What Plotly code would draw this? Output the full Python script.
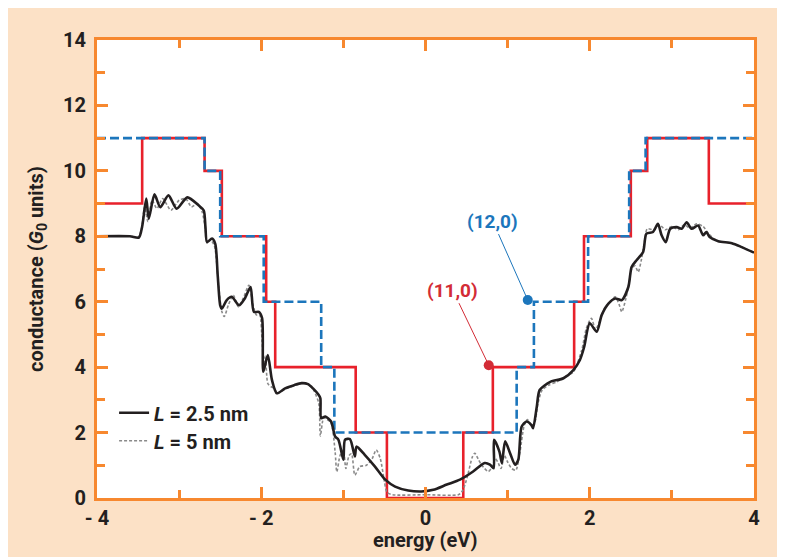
import plotly.graph_objects as go

# ---------------- data ----------------
red_edges = [-4, -3.45, -2.69, -2.48, -1.94, -1.83, -0.85, -0.47, 0.46, 0.82, 1.81, 1.93, 2.50, 2.70, 3.45, 4]
red_vals = [9, 11, 10, 8, 6, 4, 2, 0, 2, 4, 6, 8, 10, 11, 9]

blue_edges = [-4, -2.69, -2.50, -1.97, -1.27, -1.11, 1.11, 1.32, 1.98, 2.48, 2.68, 4]
blue_vals = [11, 10, 8, 6, 4, 2, 4, 6, 8, 10, 11]

black_x = [-4, -3.6, -3.49, -3.45, -3.40, -3.37, -3.30, -3.23, -3.13, -3.03, -2.90, -2.76, -2.70, -2.68,
           -2.66, -2.60, -2.56, -2.53, -2.50, -2.48, -2.42, -2.36, -2.27, -2.20, -2.13, -2.09, -2.03,
           -1.99, -1.975, -1.92, -1.87, -1.81, -1.71, -1.60, -1.51, -1.43, -1.37, -1.30, -1.28, -1.27,
           -1.22, -1.15, -1.10, -1.06, -1.00, -0.98, -0.92, -0.86, -0.84, -0.74, -0.615, -0.49, -0.37,
           -0.21, -0.05, 0.095, 0.26, 0.42, 0.58, 0.72, 0.785, 0.83, 0.834, 0.90, 0.93, 0.97, 1.03,
           1.09, 1.13, 1.17, 1.23, 1.29, 1.31, 1.355, 1.39, 1.52, 1.68, 1.80, 1.88, 1.93, 2.00, 2.085,
           2.145, 2.23, 2.31, 2.39, 2.47, 2.51, 2.57, 2.65, 2.69, 2.77, 2.83, 2.875, 2.925, 2.98, 3.06,
           3.12, 3.18, 3.24, 3.32, 3.38, 3.42, 3.46, 3.565, 3.73, 3.85, 4.0]
black_y = [8.0, 8.0, 7.96, 8.3, 9.15, 8.54, 9.28, 8.89, 9.25, 8.84, 9.19, 8.94, 8.79, 8.3,
           7.82, 7.93, 7.77, 6.8, 5.89, 5.79, 6.05, 6.15, 5.89, 6.1, 6.45, 5.69, 5.69,
           5.5, 3.86, 4.37, 3.61, 3.20, 3.35, 3.45, 3.51, 3.48, 3.35, 3.15, 3.05, 2.44,
           2.49, 2.34, 1.88, 1.78, 1.17, 1.78, 1.80, 1.27, 1.57, 1.32, 0.96, 0.56, 0.35,
           0.23, 0.20, 0.25, 0.41, 0.56, 0.81, 1.07, 1.02, 0.91, 1.78, 1.42, 1.07, 1.73, 1.37,
           1.02, 1.17, 2.18, 2.34, 2.23, 2.13, 2.79, 3.30, 3.55, 3.66, 3.91, 4.22, 4.6, 5.34, 5.08,
           5.59, 5.95, 6.10, 6.05, 6.45, 7.06, 7.27, 7.52, 8.08, 8.13, 8.38, 8.03, 7.82, 8.23, 8.28,
           8.23, 8.43, 8.23, 8.33, 8.03, 8.13, 7.98, 7.85, 7.79, 7.67, 7.5]

grey_x = [-4, -3.6, -3.5, -3.46, -3.42, -3.38, -3.33, -3.27, -3.20, -3.10, -3.00, -2.92, -2.85, -2.78,
          -2.72, -2.68, -2.66, -2.62, -2.57, -2.52, -2.48, -2.45, -2.40, -2.34, -2.28, -2.22, -2.15,
          -2.10, -2.06, -2.02, -1.99, -1.97, -1.95, -1.92, -1.88, -1.84, -1.80, -1.71, -1.60, -1.51,
          -1.43, -1.37, -1.30, -1.28, -1.24, -1.20, -1.15, -1.10, -1.08, -1.04, -1.00, -0.97, -0.93,
          -0.90, -0.86, -0.80, -0.72, -0.65, -0.60, -0.55, -0.50, -0.47, -0.40, 0.0, 0.40, 0.44, 0.48,
          0.52, 0.57, 0.60, 0.64, 0.68, 0.72, 0.765, 0.80, 0.85, 0.88, 0.92, 0.96, 1.00, 1.05, 1.10,
          1.15, 1.20, 1.24, 1.29, 1.33, 1.37, 1.42, 1.50, 1.60, 1.70, 1.80, 1.90, 1.96, 2.02, 2.07,
          2.12, 2.18, 2.25, 2.31, 2.36, 2.39, 2.44, 2.48, 2.51, 2.55, 2.59, 2.63, 2.67, 2.70, 2.78,
          2.85, 2.92, 3.00, 3.08, 3.15, 3.22, 3.30, 3.38, 3.44, 3.50, 3.565, 3.73, 3.85, 4.0]
grey_y = [8.0, 8.0, 7.97, 8.2, 8.9, 8.45, 9.1, 8.85, 9.15, 8.8, 9.1, 9.15, 8.9, 9.0,
          8.75, 8.2, 7.8, 7.9, 7.7, 6.5, 5.7, 5.55, 5.9, 6.2, 5.85, 6.1, 6.5,
          5.9, 5.6, 5.6, 4.8, 4.1, 4.35, 3.5, 3.4, 3.35, 3.2, 3.33, 3.44, 3.5,
          3.47, 3.33, 2.9, 1.9, 2.45, 2.4, 2.3, 1.4, 0.8, 1.3, 1.47, 0.9, 1.3,
          1.35, 0.7, 0.96, 1.0, 1.2, 1.47, 1.2, 0.5, 0.18, 0.1, 0.1, 0.1, 0.18, 0.4,
          0.76, 1.25, 1.37, 1.2, 1.02, 0.9, 0.81, 0.9, 1.2, 1.1, 0.9, 1.3, 1.1, 0.9, 0.85,
          1.4, 2.2, 2.4, 2.2, 2.3, 2.9, 3.3, 3.45, 3.55, 3.7, 3.85, 4.5, 5.2, 5.49, 5.15,
          5.4, 5.8, 6.0, 6.15, 5.9, 5.69, 6.1, 6.6, 7.0, 7.1, 6.91, 7.3, 7.9, 8.23, 8.2,
          8.35, 8.2, 8.3, 8.2, 8.35, 8.25, 8.38, 8.3, 8.1, 7.95, 7.85, 7.79, 7.67, 7.5]

x_tickvals = [-4, -2, 0, 2, 4]
x_ticktext = ["- 4", "- 2", "0", "2", "4"]
y_tickvals = [0, 2, 4, 6, 8, 10, 12, 14]
y_ticktext = ["0", "2", "4", "6", "8", "10", "12", "14"]

# ---------------- style ----------------
ORANGE = "#F7882F"
PEACH = "#FCE1C6"
RED = "#E8212B"
RED_TXT = "#D32C36"
BLUE = "#1C76BC"
DARK = "#231F20"
FONT = "Roboto"

fig = go.Figure()

fig.add_trace(go.Scatter(x=red_edges, y=red_vals + [red_vals[-1]], mode="lines",
                         line=dict(color=RED, width=2.6, shape="hv"), showlegend=False))
fig.add_trace(go.Scatter(x=blue_edges, y=blue_vals + [blue_vals[-1]], mode="lines",
                         line=dict(color=BLUE, width=2.6, shape="hv", dash="9px,4px"), showlegend=False))
fig.add_trace(go.Scatter(x=grey_x, y=grey_y, mode="lines", name="<i>L</i> = 5 nm",
                         line=dict(color="#8a8a8a", width=1.6, dash="3px,2px", shape="spline", smoothing=0.7),
                         legend="legend2"))
fig.add_trace(go.Scatter(x=black_x, y=black_y, mode="lines", name="<i>L</i> = 2.5 nm",
                         line=dict(color=DARK, width=2.6, shape="spline", smoothing=0.7),
                         legend="legend"))

axis_common = dict(showline=True, linecolor=ORANGE, linewidth=3, mirror="ticks",
                   ticks="inside", tickcolor=ORANGE, tickwidth=2.5, ticklen=11,
                   showgrid=False, zeroline=False,
                   tickfont=dict(family=FONT, size=20, color=DARK, weight="bold"))

fig.update_xaxes(range=[-4, 4], tickvals=x_tickvals, ticktext=x_ticktext, ticklabelstandoff=0,
                 minor=dict(dtick=1, ticks="inside", ticklen=8, tickwidth=2.5, tickcolor=ORANGE, showgrid=False),
                 **axis_common)
fig.update_yaxes(range=[0, 14], tickvals=y_tickvals, ticktext=y_ticktext, ticklabelstandoff=4,
                 minor=dict(dtick=1, ticks="inside", ticklen=8, tickwidth=2.5, tickcolor=ORANGE, showgrid=False),
                 **axis_common)

legend_font = dict(family=FONT, size=20, color=DARK, weight="bold")
fig.update_layout(
    width=777, height=549,
    margin=dict(l=89, r=31, t=32, b=59),
    paper_bgcolor=PEACH, plot_bgcolor="white",
    legend=dict(x=0.026, y=0.186, xanchor="left", yanchor="middle", bgcolor="rgba(0,0,0,0)",
                font=legend_font, itemwidth=30),
    legend2=dict(x=0.026, y=0.125, xanchor="left", yanchor="middle", bgcolor="rgba(0,0,0,0)",
                 font=legend_font, itemwidth=30),
    annotations=[
        dict(text="energy (eV)", xref="paper", yref="paper", x=0.5, y=-42 / 458,
             xanchor="center", yanchor="middle", showarrow=False,
             font=dict(family=FONT, size=20, color=DARK, weight="bold")),
        dict(text="conductance (<i>G</i><sub>0</sub> units)", xref="paper", yref="paper",
             x=-60 / 657, y=0.5, textangle=-90, xanchor="center", yanchor="middle", showarrow=False,
             font=dict(family=FONT, size=20, color=DARK, weight="bold")),
        dict(text="(12,0)", x=1.245, y=6.05, xref="x", yref="y", ax=-35, ay=-79,
             showarrow=True, arrowhead=6, arrowsize=2.5, arrowwidth=1, arrowcolor=BLUE,
             font=dict(family=FONT, size=19, color=BLUE, weight="bold")),
        dict(text="(11,0)", x=0.77, y=4.06, xref="x", yref="y", ax=-36, ay=-75,
             showarrow=True, arrowhead=6, arrowsize=2.5, arrowwidth=1, arrowcolor=RED_TXT,
             font=dict(family=FONT, size=19, color=RED_TXT, weight="bold")),
    ],
)

fig.write_html("out.html")
